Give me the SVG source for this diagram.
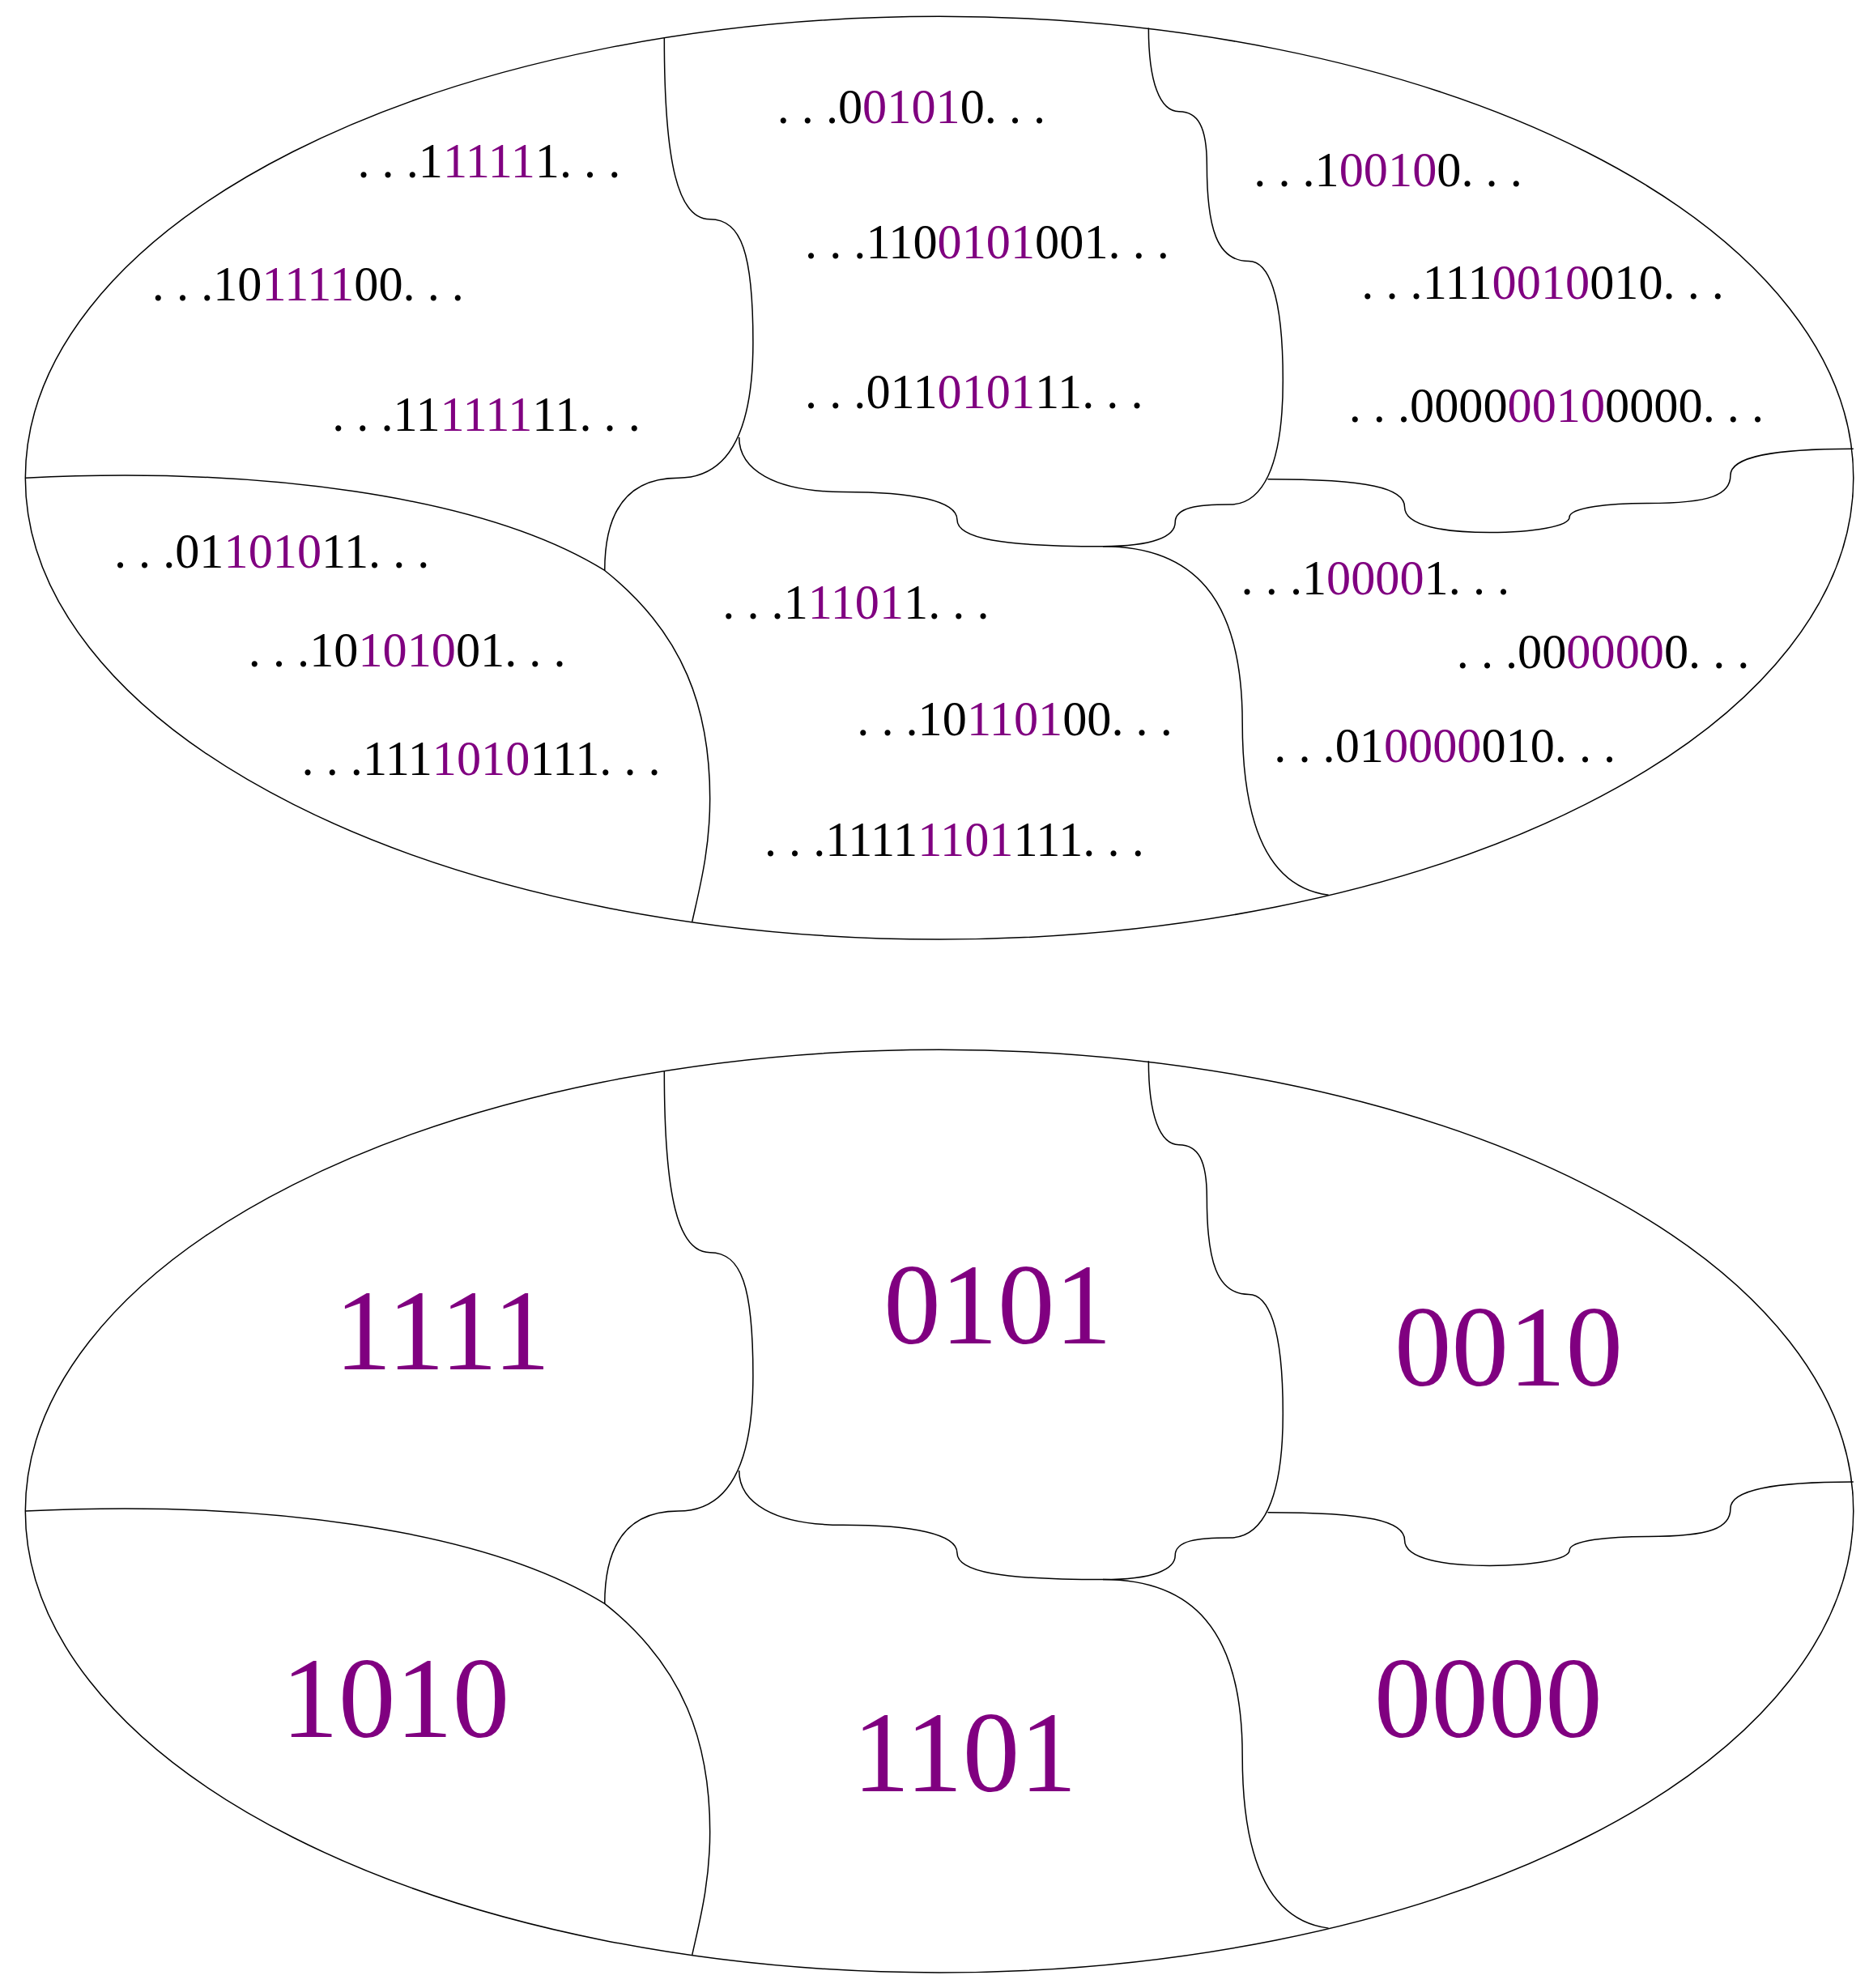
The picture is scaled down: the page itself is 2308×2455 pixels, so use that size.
<svg xmlns="http://www.w3.org/2000/svg" xmlns:xlink="http://www.w3.org/1999/xlink" width="2308" height="2455" viewBox="0 0 2308 2455">
<style>
.ln{fill:none;stroke:#000;stroke-width:1.5;vector-effect:non-scaling-stroke}
.s{font-family:"Liberation Serif","DejaVu Serif",serif;font-size:38.5px;fill:#000}
.p{fill:#800080}
.b{font-family:"Liberation Serif","DejaVu Serif",serif;font-size:90px;fill:#800080;text-anchor:middle}
</style>
<defs>
<g id="map">
<ellipse class="ln" cx="741" cy="377" rx="721" ry="364"/>
<path class="ln" d="M524,30 C524,130 535,173 560,173 C585,173 594,200 594,270 C594,330 580,377 535,377 C490,377 477,410 477,450"/>
<path class="ln" d="M583,345 C583,370 610,388 665,388 C720,388 755,395 755,410 C755,425 790,431 870,431 C910,431 927,423 927,412 C927,400 945,398 970,398 C995,398 1012,370 1012,300 C1012,230 1000,206 985,206 C960,206 952,180 952,130 C952,100 945,88 930,88 C915,88 906,65 906,22"/>
<path class="ln" d="M1000,378 C1080,378 1108,385 1108,400 C1108,415 1140,420 1175,420 C1210,420 1238,415 1238,408 C1238,400 1270,397 1300,397 C1350,397 1365,390 1365,375 C1365,360 1400,354 1462,354"/>
<path class="ln" d="M870,431 C940,431 980,470 980,570 C980,650 1000,700 1048,706"/>
<path class="ln" d="M20,377 C200,368 380,390 477,450 C540,500 560,560 560,630 C560,670 552,700 546,727"/>
</g>
</defs>
<g transform="scale(1.5655)">
<g id="connectors">
<use xlink:href="#map"/>
<use xlink:href="#map" transform="translate(0,815)"/>
</g>
<g id="top-labels">
<text class="s" x="282" y="140">. . .1<tspan class="p">1111</tspan>1. . .</text>
<text class="s" x="120" y="237">. . .10<tspan class="p">1111</tspan>00. . .</text>
<text class="s" x="262" y="340">. . .11<tspan class="p">1111</tspan>11. . .</text>
<text class="s" x="613" y="97">. . .0<tspan class="p">0101</tspan>0. . .</text>
<text class="s" x="635" y="204">. . .110<tspan class="p">0101</tspan>001. . .</text>
<text class="s" x="635" y="322">. . .011<tspan class="p">0101</tspan>11. . .</text>
<text class="s" x="989" y="147">. . .1<tspan class="p">0010</tspan>0. . .</text>
<text class="s" x="1074" y="236">. . .111<tspan class="p">0010</tspan>010. . .</text>
<text class="s" x="1064" y="333">. . .0000<tspan class="p">0010</tspan>0000. . .</text>
<text class="s" x="90" y="448">. . .01<tspan class="p">1010</tspan>11. . .</text>
<text class="s" x="196" y="526">. . .10<tspan class="p">1010</tspan>01. . .</text>
<text class="s" x="238" y="611">. . .111<tspan class="p">1010</tspan>111. . .</text>
<text class="s" x="570" y="488">. . .1<tspan class="p">1101</tspan>1. . .</text>
<text class="s" x="676" y="580">. . .10<tspan class="p">1101</tspan>00. . .</text>
<text class="s" x="603" y="675">. . .1111<tspan class="p">1101</tspan>111. . .</text>
<text class="s" x="979" y="469">. . .1<tspan class="p">0000</tspan>1. . .</text>
<text class="s" x="1149" y="527">. . .00<tspan class="p">0000</tspan>0. . .</text>
<text class="s" x="1005" y="601">. . .01<tspan class="p">0000</tspan>010. . .</text>
</g>
<g id="bottom-labels">
<text class="b" x="349" y="1080">1111</text>
<text class="b" x="787" y="1060">0101</text>
<text class="b" x="1190" y="1093">0010</text>
<text class="b" x="312" y="1370">1010</text>
<text class="b" x="761" y="1413">1101</text>
<text class="b" x="1174" y="1370">0000</text>
</g>
</g>
</svg>
